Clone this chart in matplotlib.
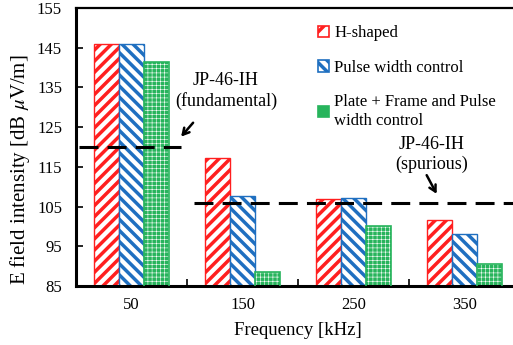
"""E field intensity per frequency for three shielding setups."""

import numpy as np
import matplotlib
matplotlib.use("Agg")
import matplotlib.pyplot as plt
from matplotlib.patches import Patch

# data
freqs = ['50', '150', '250', '350']
h_shaped = [146.0, 117.2, 107.0, 101.5]
pulse_width = [146.0, 107.6, 107.2, 98.0]
plate_frame = [141.5, 88.5, 100.2, 90.5]
limit_fund = 120.0
limit_spur = 106.0

plt.rcParams['font.family'] = ['Liberation Serif', 'DejaVu Serif']
plt.rcParams['mathtext.fontset'] = 'stix'
plt.rcParams['hatch.linewidth'] = 2.5

red = '#ff1f1f'
blue = '#1f6fc0'
green = '#27b45c'


def hatch_lw(patches, lw):
    # per-artist hatch width if this matplotlib has it
    for p in patches:
        if hasattr(p, 'set_hatch_linewidth'):
            p.set_hatch_linewidth(lw)


fig = plt.figure(figsize=(5.13, 3.45), dpi=100)
ax = fig.add_axes([0.148, 0.171, 0.866, 0.806])

x = np.arange(len(freqs))
w = 0.225

# red and blue: white bars with coloured stripes
b1 = ax.bar(x - w, h_shaped, w, facecolor='white', edgecolor=red,
            hatch='///', linewidth=1.0, zorder=2)
b2 = ax.bar(x, pulse_width, w, facecolor='white', edgecolor=blue,
            hatch='\\\\\\', linewidth=1.0, zorder=2)
hatch_lw(b1, 2.5)
hatch_lw(b2, 2.5)

# green: fine white grid on green, then the outline on top
b3 = ax.bar(x + w, plate_frame, w, facecolor=green, edgecolor='white',
            hatch='++++', linewidth=0, zorder=2)
hatch_lw(b3, 0.4)
ax.bar(x + w, plate_frame, w, facecolor='none', edgecolor=green,
       linewidth=1.2, zorder=3)

# limit lines
ax.plot([-0.47, 0.45], [limit_fund, limit_fund], color='black', lw=2.2,
        dashes=(6.2, 3.0), zorder=4)
ax.plot([0.56, 3.5], [limit_spur, limit_spur], color='black', lw=2.2,
        dashes=(6.2, 3.0), zorder=4)

arrow = dict(arrowstyle='->, head_length=0.45, head_width=0.25', lw=1.8,
             color='black', shrinkA=0, shrinkB=0)
ax.text(0.85, 134.1, 'JP-46-IH\n(fundamental)', ha='center', va='center',
        fontsize=13, linespacing=1.2)
ax.annotate('', xy=(0.447, 122.6), xytext=(0.555, 126.1), arrowprops=arrow)
ax.text(2.70, 118.2, 'JP-46-IH\n(spurious)', ha='center', va='center',
        fontsize=13, linespacing=1.2)
ax.annotate('', xy=(2.748, 108.2), xytext=(2.658, 112.9), arrowprops=arrow)

ax.set_xlim(-0.5, 3.5)
ax.set_ylim(85, 155)
ax.set_yticks(np.arange(85, 156, 10))
ax.set_xticks([0.5, 1.5, 2.5])
ax.set_xticklabels([])
ax.set_xticks(x, minor=True)
ax.set_xticklabels(freqs, minor=True)
ax.tick_params(axis='x', which='minor', length=0, pad=8, labelsize=12)
ax.tick_params(axis='x', which='major', direction='in', length=5, width=1.2)
ax.tick_params(axis='y', direction='in', length=5, width=1.2, labelsize=12,
               pad=10)

ax.spines['left'].set_linewidth(2.2)
ax.spines['bottom'].set_linewidth(2.2)
ax.spines['top'].set_linewidth(1.6)
ax.spines['right'].set_linewidth(1.6)

ax.set_xlabel('Frequency [kHz]', fontsize=13.5)
ax.xaxis.set_label_coords(0.5, -0.128)
ax.set_ylabel(r'E field intensity [dB $\mu$V/m]', fontsize=15)
ax.yaxis.set_label_coords(-0.099, 0.417)

handles = [
    Patch(facecolor='white', edgecolor=red, hatch='//', lw=1.2),
    Patch(facecolor='white', edgecolor=blue, hatch='\\\\\\', lw=1.2),
    Patch(facecolor=green, edgecolor=green, hatch='++', lw=1.2),
]
labels = ['H-shaped', 'Pulse width control',
          'Plate + Frame and Pulse\nwidth control']
ax.legend(handles, labels, loc='upper left', bbox_to_anchor=(0.505, 1.0),
          frameon=False, fontsize=12, handlelength=0.7, handleheight=0.7,
          handletextpad=0.3, labelspacing=1.1, borderaxespad=0.65)

fig.savefig('out.png', dpi=100)
